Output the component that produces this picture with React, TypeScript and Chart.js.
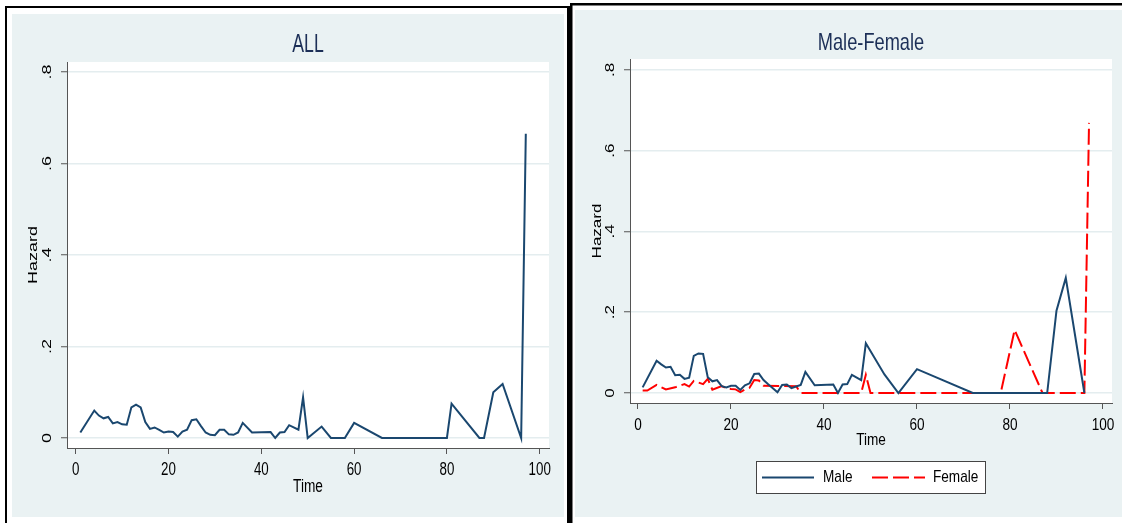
import { useEffect, useRef } from "react";
import { Chart, registerables } from "chart.js";

Chart.register(...registerables);

// ---------------- data ----------------
const allTime = [1, 4, 5, 6, 7, 8, 9, 10, 11, 12, 13, 14, 15, 16, 17, 18, 19, 20, 21, 22, 23, 24, 25, 26, 27, 28, 29, 30, 31, 32, 33, 34, 35, 36, 38, 42, 43, 44, 45, 46, 48, 49, 50, 53, 55, 58, 60, 66, 80, 81, 87, 88, 90, 92, 96, 97];
const allHazard = [0.012, 0.06, 0.049, 0.043, 0.046, 0.032, 0.035, 0.03, 0.029, 0.067, 0.073, 0.067, 0.035, 0.02, 0.023, 0.018, 0.012, 0.014, 0.013, 0.003, 0.014, 0.018, 0.039, 0.041, 0.026, 0.012, 0.007, 0.006, 0.018, 0.018, 0.008, 0.007, 0.012, 0.033, 0.012, 0.013, 0, 0.012, 0.013, 0.028, 0.018, 0.089, 0, 0.025, 0, 0, 0.033, 0, 0, 0.075, 0, 0, 0.1, 0.118, 0, 0.665];

const maleTime = [1, 4, 5, 6, 7, 8, 9, 10, 11, 12, 13, 14, 15, 16, 17, 18, 19, 20, 21, 22, 23, 24, 25, 26, 27, 28, 29, 30, 31, 32, 33, 34, 35, 36, 38, 42, 43, 44, 45, 46, 48, 49, 53, 56, 60, 72, 88, 90, 92, 96];
const maleHazard = [0.014, 0.08, 0.071, 0.063, 0.065, 0.044, 0.045, 0.035, 0.038, 0.092, 0.098, 0.097, 0.039, 0.029, 0.032, 0.017, 0.014, 0.018, 0.018, 0.0075, 0.019, 0.024, 0.047, 0.048, 0.032, 0.0215, 0.012, 0.002, 0.02, 0.021, 0.012, 0.016, 0.02, 0.052, 0.019, 0.021, 0, 0.021, 0.022, 0.045, 0.032, 0.123, 0.046, 0, 0.059, 0, 0, 0.204, 0.285, 0];

const femaleTime = [1, 2, 4, 6, 8, 10, 11, 12, 14, 15, 16, 18, 19, 20, 21, 22, 23, 24, 25, 26, 27, 34, 35, 48, 49, 50, 78, 81, 87, 96, 97];
const femaleHazard = [0.006, 0.006, 0.02, 0.009, 0.014, 0.022, 0.016, 0.03, 0.022, 0.035, 0.008, 0.017, 0.012, 0.01, 0.009, 0.002, 0.009, 0.013, 0.032, 0.031, 0.018, 0.017, 0, 0, 0.045, 0, 0, 0.156, 0, 0, 0.669];

const xTicks = [0, 20, 40, 60, 80, 100];
const xTickLabels = ["0", "20", "40", "60", "80", "100"];
const yTicks = [0, 0.2, 0.4, 0.6, 0.8];
const yTickLabels = ["0", ".2", ".4", ".6", ".8"];

const leftTitle = "ALL";
const rightTitle = "Male-Female";
const xTitle = "Time";
const yTitle = "Hazard";
const maleLabel = "Male";
const femaleLabel = "Female";

// ---------------- styles ----------------
const FONT = "'Liberation Sans', Arial, sans-serif";
const NAVY = "#1a476f";
const RED = "#ff0000";
const BG = "#eaf2f3";
const GRID = "#e4edef";
const AXIS = "#555555";
const TITLE_COLOR = "#1c2f57";

type Txt = {
  text: string;
  x: number;
  y: number;
  size: number;
  sx: number;
  rot?: boolean;
  color?: string;
  align?: CanvasTextAlign;
};

function drawText(ctx: CanvasRenderingContext2D, t: Txt) {
  ctx.save();
  ctx.translate(t.x, t.y);
  ctx.scale(t.sx, 1);
  if (t.rot) ctx.rotate(-Math.PI / 2);
  ctx.font = `${t.size}px ${FONT}`;
  ctx.fillStyle = t.color || "#000";
  ctx.textAlign = t.align || "center";
  ctx.textBaseline = "middle";
  ctx.fillText(t.text, 0, 0);
  ctx.restore();
}

type PanelCfg = {
  width: number;
  height: number;
  title: string;
  plot: { left: number; top: number; right: number; bottom: number };
  xRange: [number, number];
  yRange: [number, number];
  frame: (ctx: CanvasRenderingContext2D) => void;
  titlePos: { x: number; y: number; size: number; sx: number };
  tickFont: { size: number; sx: number };
  axisFont: { size: number; sx: number };
  yLabelX: number;
  yTitleX: number;
  xLabelY: number;
  xTitleY: number;
  datasets: any[];
  legend?: {
    box: { x: number; y: number; w: number; h: number };
    items: { x1: number; x2: number; tx: number }[];
    y: number;
    font: { size: number; sx: number };
  };
};

function makeChart(canvas: HTMLCanvasElement, cfg: PanelCfg) {
  const p = cfg.plot;
  const panelPlugin = {
    id: "panel",
    beforeDraw(chart: any) {
      const ctx = chart.ctx as CanvasRenderingContext2D;
      ctx.save();
      ctx.fillStyle = "#ffffff";
      ctx.fillRect(0, 0, cfg.width, cfg.height);
      cfg.frame(ctx);
      const a = chart.chartArea;
      ctx.fillStyle = "#ffffff";
      ctx.fillRect(a.left, a.top, a.right - a.left, a.bottom - a.top);
      ctx.restore();
    },
    afterDraw(chart: any) {
      const ctx = chart.ctx as CanvasRenderingContext2D;
      const a = chart.chartArea;
      const xs = chart.scales.x;
      const ys = chart.scales.y;
      drawText(ctx, {
        text: cfg.title,
        x: cfg.titlePos.x,
        y: cfg.titlePos.y,
        size: cfg.titlePos.size,
        sx: cfg.titlePos.sx,
        color: TITLE_COLOR,
      });
      xTicks.forEach((v, i) => {
        drawText(ctx, {
          text: xTickLabels[i],
          x: xs.getPixelForValue(v),
          y: cfg.xLabelY,
          size: cfg.tickFont.size,
          sx: cfg.tickFont.sx,
        });
      });
      yTicks.forEach((v, i) => {
        drawText(ctx, {
          text: yTickLabels[i],
          x: cfg.yLabelX,
          y: ys.getPixelForValue(v),
          size: cfg.tickFont.size,
          sx: cfg.tickFont.sx,
          rot: true,
        });
      });
      drawText(ctx, {
        text: xTitle,
        x: (a.left + a.right) / 2,
        y: cfg.xTitleY,
        size: cfg.axisFont.size,
        sx: cfg.axisFont.sx,
      });
      drawText(ctx, {
        text: yTitle,
        x: cfg.yTitleX,
        y: (a.top + a.bottom) / 2,
        size: cfg.axisFont.size,
        sx: cfg.axisFont.sx,
        rot: true,
      });
      if (cfg.legend) {
        const L = cfg.legend;
        ctx.save();
        ctx.fillStyle = "#ffffff";
        ctx.fillRect(L.box.x, L.box.y, L.box.w, L.box.h);
        ctx.strokeStyle = "#444444";
        ctx.lineWidth = 1;
        ctx.strokeRect(L.box.x + 0.5, L.box.y + 0.5, L.box.w - 1, L.box.h - 1);
        chart.data.datasets.forEach((ds: any, i: number) => {
          const it = L.items[i];
          ctx.save();
          ctx.strokeStyle = ds.borderColor;
          ctx.lineWidth = ds.borderWidth;
          ctx.setLineDash(ds.borderDash || []);
          ctx.beginPath();
          ctx.moveTo(it.x1, L.y);
          ctx.lineTo(it.x2, L.y);
          ctx.stroke();
          ctx.restore();
          drawText(ctx, {
            text: ds.label,
            x: it.tx,
            y: L.y,
            size: L.font.size,
            sx: L.font.sx,
            align: "left",
          });
        });
        ctx.restore();
      }
    },
  };

  return new Chart(canvas, {
    type: "line",
    data: { datasets: cfg.datasets },
    options: {
      animation: false,
      responsive: false,
      maintainAspectRatio: false,
      devicePixelRatio: 1,
      layout: {
        padding: {
          left: p.left,
          top: p.top,
          right: cfg.width - p.right,
          bottom: cfg.height - p.bottom,
        },
      },
      elements: { point: { radius: 0 }, line: { tension: 0 } },
      scales: {
        x: {
          type: "linear",
          min: cfg.xRange[0],
          max: cfg.xRange[1],
          afterFit: (s: any) => {
            s.height = 0;
          },
          afterBuildTicks: (s: any) => {
            s.ticks = xTicks.map((v) => ({ value: v }));
          },
          ticks: { display: false },
          grid: {
            drawOnChartArea: false,
            drawTicks: true,
            tickLength: 6,
            tickColor: AXIS,
            tickWidth: 1,
          },
          border: { display: true, color: AXIS, width: 1 },
        },
        y: {
          type: "linear",
          min: cfg.yRange[0],
          max: cfg.yRange[1],
          afterFit: (s: any) => {
            s.width = 0;
          },
          afterBuildTicks: (s: any) => {
            s.ticks = yTicks.map((v) => ({ value: v }));
          },
          ticks: { display: false },
          grid: {
            drawOnChartArea: true,
            color: GRID,
            lineWidth: 1.5,
            drawTicks: true,
            tickLength: 6,
            tickColor: AXIS,
            tickWidth: 1,
          },
          border: { display: true, color: AXIS, width: 1 },
        },
      },
      plugins: {
        legend: { display: false },
        title: { display: false },
        tooltip: { enabled: false },
      },
    } as any,
    plugins: [panelPlugin],
  });
}

function toPoints(xs: number[], ys: number[]) {
  return xs.map((x, i) => ({ x, y: ys[i] }));
}

export default function App() {
  const leftRef = useRef<HTMLCanvasElement | null>(null);
  const rightRef = useRef<HTMLCanvasElement | null>(null);

  useEffect(() => {
    const charts: Chart[] = [];
    if (leftRef.current) {
      charts.push(
        makeChart(leftRef.current, {
          width: 570,
          height: 523,
          title: leftTitle,
          plot: { left: 67, top: 62, right: 549, bottom: 448 },
          xRange: [-1.875, 102.0],
          yRange: [-0.02186, 0.8219],
          frame: (ctx) => {
            ctx.fillStyle = "#000";
            ctx.fillRect(5, 6, 564, 2);
            ctx.fillRect(5, 6, 2, 517);
            ctx.fillRect(567, 6, 3, 517);
            ctx.fillStyle = BG;
            ctx.fillRect(12, 14, 552, 503);
          },
          titlePos: { x: 308, y: 45, size: 26, sx: 0.68 },
          tickFont: { size: 18, sx: 0.74 },
          axisFont: { size: 18, sx: 0.76 },
          yLabelX: 47,
          yTitleX: 33,
          xLabelY: 470,
          xTitleY: 487,
          datasets: [
            {
              label: "All",
              data: toPoints(allTime, allHazard),
              borderColor: NAVY,
              borderWidth: 2,
              fill: false,
            },
          ],
        })
      );
    }
    if (rightRef.current) {
      charts.push(
        makeChart(rightRef.current, {
          width: 552,
          height: 523,
          title: rightTitle,
          plot: { left: 60, top: 59, right: 542, bottom: 403 },
          xRange: [-1.72, 101.94],
          yRange: [-0.02477, 0.8272],
          frame: (ctx) => {
            ctx.fillStyle = "#000";
            ctx.fillRect(0, 3, 552, 2.5);
            ctx.fillRect(0, 3, 2.5, 520);
            ctx.fillStyle = BG;
            ctx.fillRect(5, 10, 547, 507);
          },
          titlePos: { x: 301, y: 43, size: 24, sx: 0.76 },
          tickFont: { size: 17, sx: 0.8 },
          axisFont: { size: 17, sx: 0.8 },
          yLabelX: 40,
          yTitleX: 27,
          xLabelY: 425,
          xTitleY: 440,
          datasets: [
            {
              label: maleLabel,
              data: toPoints(maleTime, maleHazard),
              borderColor: NAVY,
              borderWidth: 2,
              fill: false,
            },
            {
              label: femaleLabel,
              data: toPoints(femaleTime, femaleHazard),
              borderColor: RED,
              borderWidth: 2,
              borderDash: [16, 5],
              fill: false,
            },
          ],
          legend: {
            box: { x: 186, y: 461, w: 230, h: 33 },
            items: [
              { x1: 192, x2: 244, tx: 253 },
              { x1: 302, x2: 355, tx: 363 },
            ],
            y: 477.5,
            font: { size: 17, sx: 0.8 },
          },
        })
      );
    }
    return () => {
      charts.forEach((c) => c.destroy());
    };
  }, []);

  return (
    <div
      style={{
        position: "fixed",
        left: 0,
        top: 0,
        width: 1122,
        height: 523,
        background: "#ffffff",
        overflow: "hidden",
      }}
    >
      <canvas
        ref={leftRef}
        width={570}
        height={523}
        style={{ position: "absolute", left: 0, top: 0, width: 570, height: 523 }}
      />
      <canvas
        ref={rightRef}
        width={552}
        height={523}
        style={{ position: "absolute", left: 570, top: 0, width: 552, height: 523 }}
      />
    </div>
  );
}
